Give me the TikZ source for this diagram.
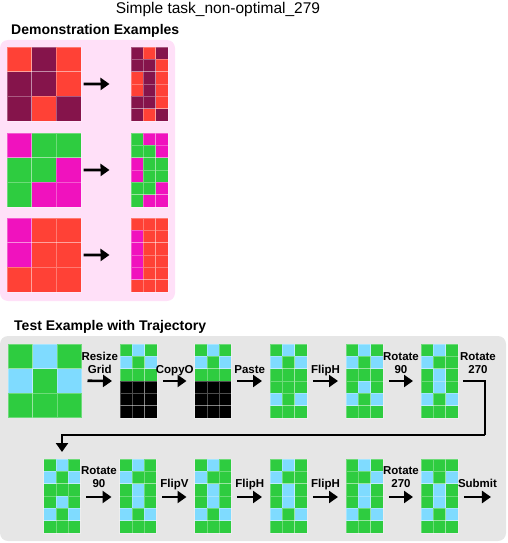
\documentclass[tikz,border=0pt]{standalone}
\usepackage{fontspec}
\setmainfont{Liberation Sans}
\usetikzlibrary{arrows.meta, calc, positioning}

\definecolor{cG}{HTML}{2ECC40}
\definecolor{cB}{HTML}{7FDBFF}
\definecolor{cR}{HTML}{FF4136}
\definecolor{cD}{HTML}{85144B}
\definecolor{cM}{HTML}{F012BE}
\definecolor{cK}{HTML}{000000}
\definecolor{demobg}{HTML}{FFE0F8}
\definecolor{testbg}{HTML}{E6E6E6}

% name, north west corner, cell size, rows, cell colours row by row
\newcommand{\arcgrid}[5]{%
  \node[gridbox, minimum width=3*#3, minimum height=#4*#3, anchor=north west] (#1) at #2 {};
  \foreach \row [count=\ri from 0] in {#5}{
    \foreach \col [count=\ci from 0] in \row{
      \fill[fill=c\col] ($(#1.north west)+(\ci*#3,\ri*#3)$) rectangle ++(#3,#3);
      \draw[cellline] ($(#1.north west)+(\ci*#3,\ri*#3)$) rectangle ++(#3,#3);
    }
  }
}

\begin{document}
\begin{tikzpicture}[x=1pt, y=-1pt,
  gridbox/.style={inner sep=0pt, outer sep=0pt},
  cellline/.style={draw=white, draw opacity=0.3, line width=0.6pt},
  flow/.style={-{Triangle[length=9pt, width=12pt]}, line width=2.6pt},
  link/.style={line width=2.2pt},
  lbl/.style={font=\bfseries\fontsize{11.5}{13}\selectfont, align=center, anchor=south, inner sep=0pt, text depth=0pt, yshift=6.5pt},
  head/.style={font=\bfseries\fontsize{14}{16}\selectfont, anchor=west, inner sep=0pt},
  ttl/.style={font=\fontsize{15.5}{18}\selectfont, inner sep=0pt}]
  \useasboundingbox (0,0) rectangle (507,543);

  \node[ttl] (title) at (218,9) {Simple task\_non-optimal\_279};

  \node[head] (demo) at (11,31) {Demonstration Examples};
  \fill[demobg, rounded corners=8pt] (0,40) rectangle (175,301);

  \arcgrid{d1in}{(7,47)}{24.67}{3}{{R,D,R},{D,D,R},{D,R,D}}
  \arcgrid{d1out}{(131,47)}{12.33}{6}{{D,R,D},{D,D,R},{R,D,R},{R,D,R},{D,D,R},{D,R,D}}
  \arcgrid{d2in}{(7,133)}{24.67}{3}{{M,G,G},{G,G,M},{G,M,M}}
  \arcgrid{d2out}{(131,133)}{12.33}{6}{{G,M,M},{G,G,M},{M,G,G},{M,G,G},{G,G,M},{G,M,M}}
  \arcgrid{d3in}{(7,218)}{24.67}{3}{{M,R,R},{M,R,R},{R,R,R}}
  \arcgrid{d3out}{(131,218)}{12.33}{6}{{R,R,R},{M,R,R},{M,R,R},{M,R,R},{M,R,R},{R,R,R}}

  \draw[flow] ($(d1in.east)+(2.5,0)$) -- ($(d1out.west)+(-21.5,0)$);
  \draw[flow] ($(d2in.east)+(2.5,0)$) -- ($(d2out.west)+(-21.5,0)$);
  \draw[flow] ($(d3in.east)+(2.5,0)$) -- ($(d3out.west)+(-21.5,0)$);

  \node[head] (test) at (14,327) {Test Example with Trajectory};
  \fill[testbg, rounded corners=8pt] (0,336) rectangle (506,541);

  \arcgrid{tin}{(8,344)}{24.5}{3}{{G,B,G},{B,G,B},{G,G,G}}
  \arcgrid{t1}{(120,344)}{12.33}{6}{{G,B,G},{B,G,B},{G,G,G},{K,K,K},{K,K,K},{K,K,K}}
  \arcgrid{t2}{(194.5,344)}{12.33}{6}{{G,B,G},{B,G,B},{G,G,G},{K,K,K},{K,K,K},{K,K,K}}
  \arcgrid{t3}{(270,344)}{12.33}{6}{{G,B,G},{B,G,B},{G,G,G},{G,G,G},{B,G,B},{G,G,G}}
  \arcgrid{t4}{(346,344)}{12.33}{6}{{G,B,G},{B,G,B},{G,G,G},{G,B,G},{B,G,B},{G,G,G}}
  \arcgrid{t5}{(421,344)}{12.33}{6}{{G,B,G},{B,G,G},{G,B,G},{G,B,G},{B,G,B},{G,G,G}}

  \arcgrid{t6}{(43.5,459)}{12.33}{6}{{G,B,G},{B,G,B},{G,G,G},{G,B,G},{B,G,B},{G,G,G}}
  \arcgrid{t7}{(119.5,459)}{12.33}{6}{{G,B,G},{B,G,G},{G,B,G},{G,B,G},{B,G,B},{G,G,G}}
  \arcgrid{t8}{(194.5,459)}{12.33}{6}{{G,B,G},{B,G,G},{G,B,G},{G,B,G},{B,G,B},{G,G,G}}
  \arcgrid{t9}{(270,459)}{12.33}{6}{{G,B,G},{B,G,G},{G,B,G},{G,B,G},{B,G,B},{G,G,G}}
  \arcgrid{t10}{(346,459)}{12.33}{6}{{G,B,G},{G,G,B},{G,B,G},{G,B,G},{B,G,B},{G,G,G}}
  \arcgrid{t11}{(421,459)}{12.33}{6}{{G,G,G},{B,G,B},{G,B,G},{G,B,G},{B,G,B},{G,G,G}}

  \draw[flow] ($(tin.east)+(6,0)$) -- node[lbl] {Resize\\Grid} ($(t1.west)+(-8,0)$);
  \draw[flow] ($(t1.east)+(6,0)$) -- node[lbl] {CopyO} ($(t2.west)+(-8,0)$);
  \draw[flow] ($(t2.east)+(6,0)$) -- node[lbl] {Paste} ($(t3.west)+(-8,0)$);
  \draw[flow] ($(t3.east)+(6,0)$) -- node[lbl] {FlipH} ($(t4.west)+(-8,0)$);
  \draw[flow] ($(t4.east)+(6,0)$) -- node[lbl] {Rotate\\90} ($(t5.west)+(-8,0)$);

  \coordinate (turn) at (485,435);
  \draw[link] ($(t5.east)+(5,0)$) -- node[lbl, xshift=4pt] {Rotate\\270} (turn |- t5.east) -- (turn);
  \draw[flow, line width=2.2pt] (turn) -| ($(t6.north)+(0,-7)$);

  \draw[flow] ($(t6.east)+(6,1)$) -- node[lbl, yshift=2pt] {Rotate\\90} ($(t7.west)+(-8,1)$);
  \draw[flow] ($(t7.east)+(6,1)$) -- node[lbl, yshift=2pt] {FlipV} ($(t8.west)+(-8,1)$);
  \draw[flow] ($(t8.east)+(6,1)$) -- node[lbl, yshift=2pt] {FlipH} ($(t9.west)+(-8,1)$);
  \draw[flow] ($(t9.east)+(6,1)$) -- node[lbl, yshift=2pt] {FlipH} ($(t10.west)+(-8,1)$);
  \draw[flow] ($(t10.east)+(6,1)$) -- node[lbl, yshift=2pt] {Rotate\\270} ($(t11.west)+(-8,1)$);
  \coordinate (done) at ($(t11.east)+(33,1)$);
  \draw[flow] ($(t11.east)+(6,1)$) -- node[lbl, yshift=2pt] {Submit} (done);
\end{tikzpicture}
\end{document}
